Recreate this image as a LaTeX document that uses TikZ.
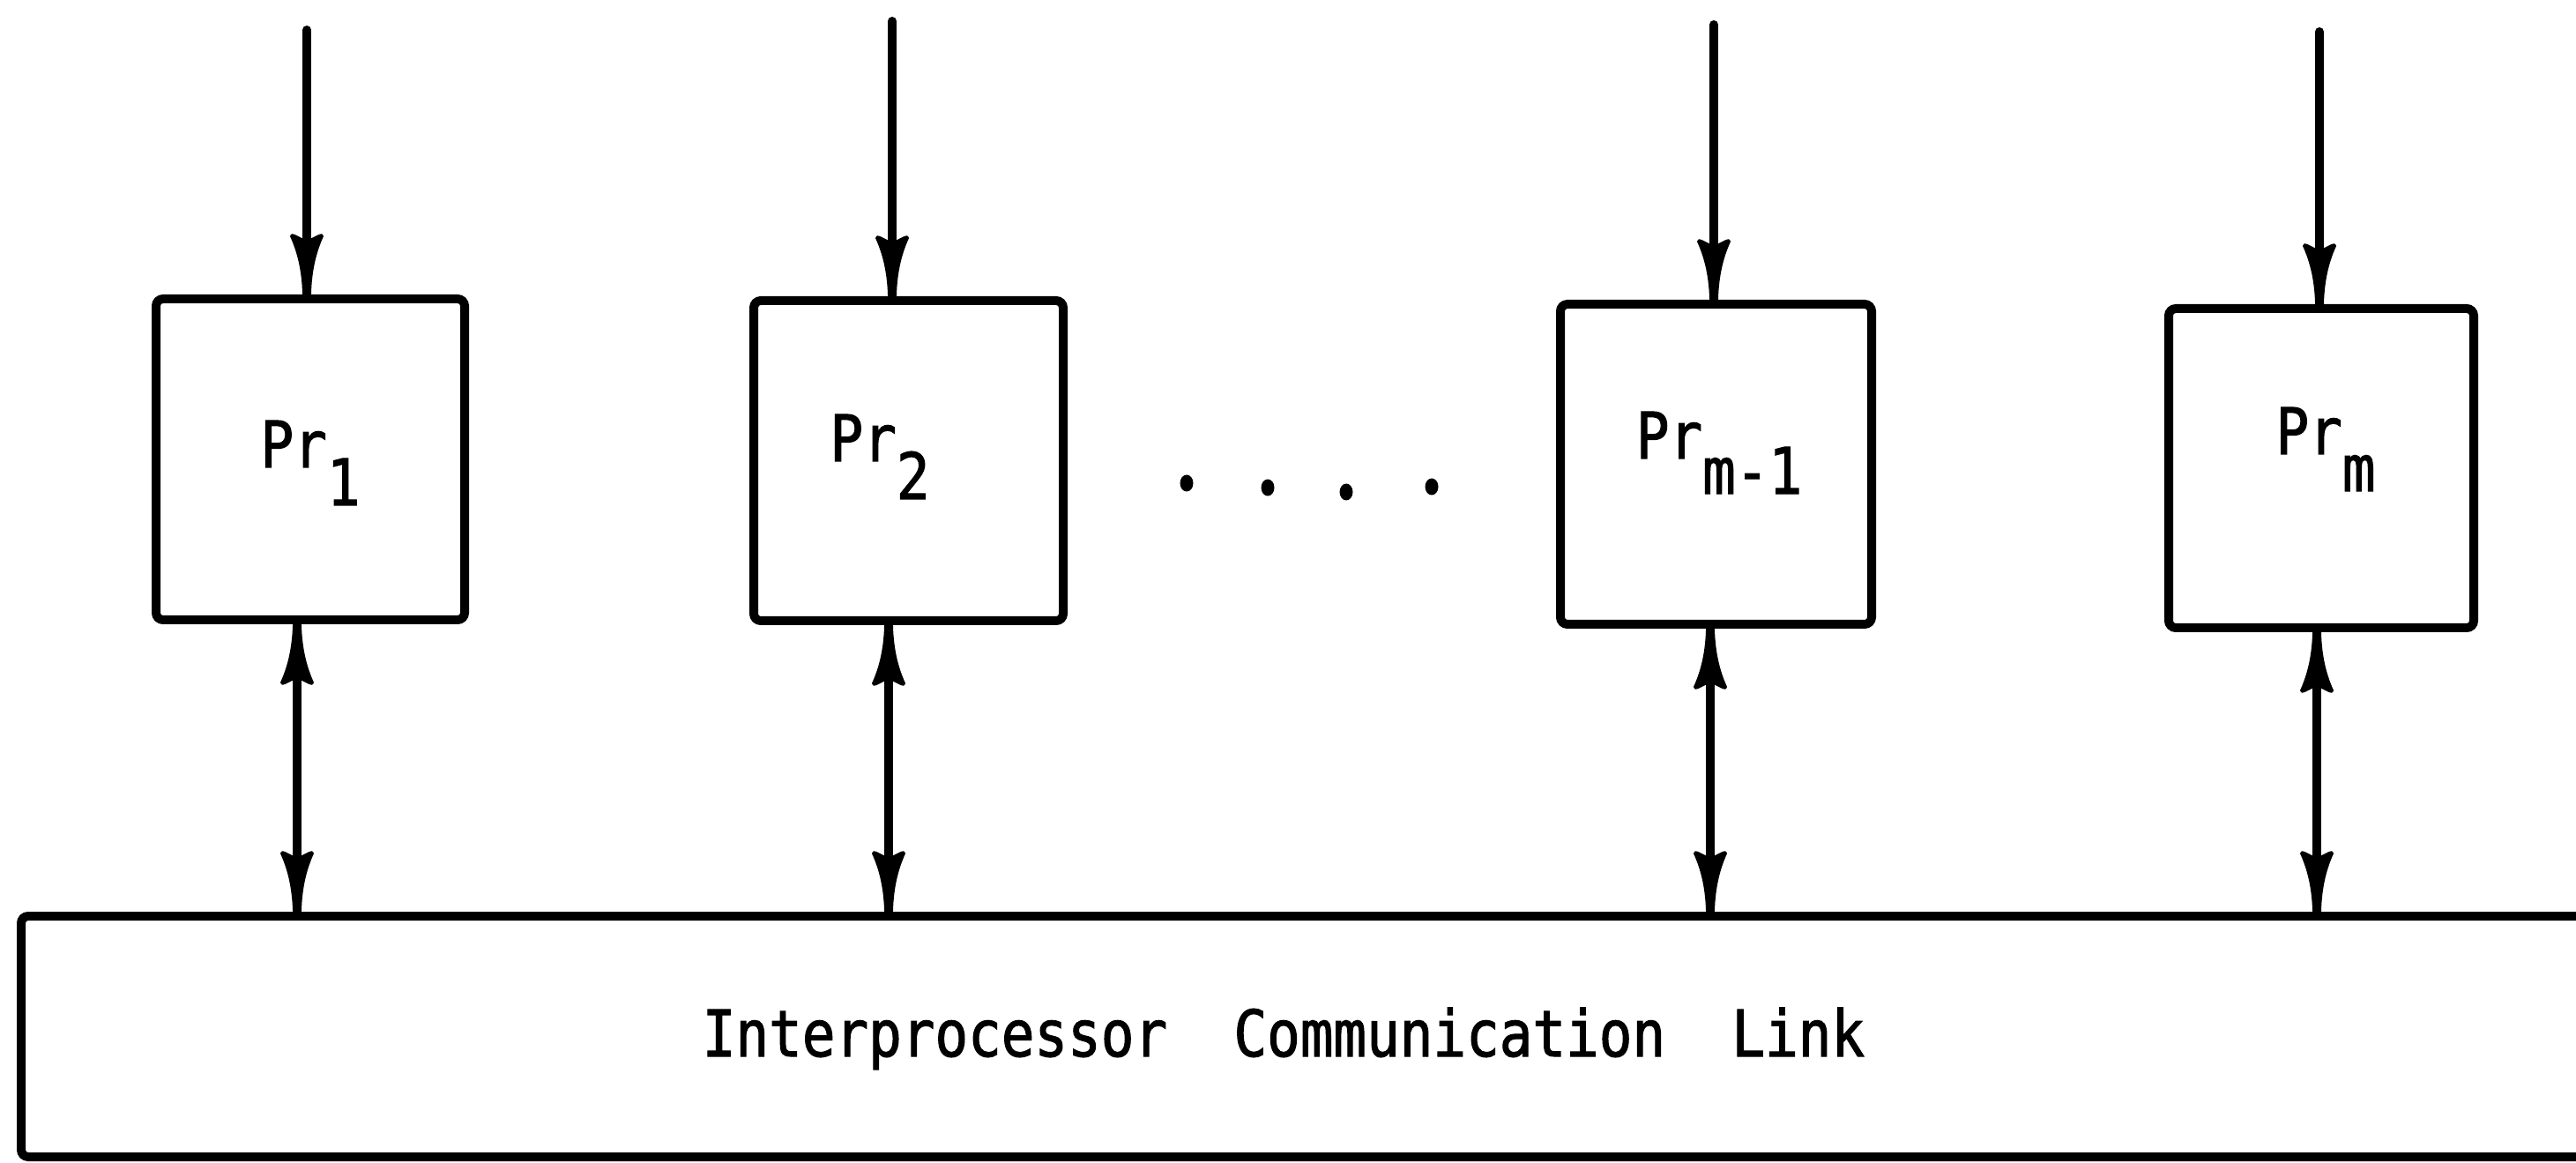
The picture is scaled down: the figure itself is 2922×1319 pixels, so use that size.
\documentclass[tikz,border=0pt]{standalone}
\usepackage{fontspec}
\newfontfamily\typefont[FakeStretch=0.86, FakeBold=1.5]{DejaVu Sans Mono}
\usetikzlibrary{arrows.meta}

\makeatletter
\pgfdeclarearrow{
  name = Barb,
  defaults = {length = 6.8mm, width = 3.8mm},
  parameters = {\the\pgfarrowlength,\the\pgfarrowwidth},
  setup code = {
    \pgfarrowssettipend{0pt}
    \pgfarrowssetbackend{-\pgfarrowlength}
    \pgfarrowssetlineend{-0.3\pgfarrowlength}
    \pgfarrowssetvisualbackend{-0.9\pgfarrowlength}
    \pgfarrowshullpoint{0pt}{0pt}
    \pgfarrowshullpoint{-\pgfarrowlength}{0.5\pgfarrowwidth}
    \pgfarrowshullpoint{-\pgfarrowlength}{-0.5\pgfarrowwidth}
    \pgfarrowssavethe\pgfarrowlength
    \pgfarrowssavethe\pgfarrowwidth
  },
  drawing code = {
    \pgfpathmoveto{\pgfqpoint{0pt}{0.13\pgfarrowwidth}}
    \pgfpathcurveto{\pgfqpoint{-0.45\pgfarrowlength}{0.15\pgfarrowwidth}}
                   {\pgfqpoint{-0.75\pgfarrowlength}{0.32\pgfarrowwidth}}
                   {\pgfqpoint{-0.97\pgfarrowlength}{0.5\pgfarrowwidth}}
    \pgfpathcurveto{\pgfqpoint{-1.02\pgfarrowlength}{0.48\pgfarrowwidth}}
                   {\pgfqpoint{-1.02\pgfarrowlength}{0.4\pgfarrowwidth}}
                   {\pgfqpoint{-\pgfarrowlength}{0.36\pgfarrowwidth}}
    \pgfpathlineto{\pgfqpoint{-0.9\pgfarrowlength}{0pt}}
    \pgfpathlineto{\pgfqpoint{-\pgfarrowlength}{-0.36\pgfarrowwidth}}
    \pgfpathcurveto{\pgfqpoint{-1.02\pgfarrowlength}{-0.4\pgfarrowwidth}}
                   {\pgfqpoint{-1.02\pgfarrowlength}{-0.48\pgfarrowwidth}}
                   {\pgfqpoint{-0.97\pgfarrowlength}{-0.5\pgfarrowwidth}}
    \pgfpathcurveto{\pgfqpoint{-0.75\pgfarrowlength}{-0.32\pgfarrowwidth}}
                   {\pgfqpoint{-0.45\pgfarrowlength}{-0.15\pgfarrowwidth}}
                   {\pgfqpoint{0pt}{-0.13\pgfarrowwidth}}
    \pgfpathclose
    \pgfusepathqfill
  }
}
\makeatother

\tikzset{
  procbox/.style={draw, line width=1mm, rounded corners=0.8mm, inner sep=0pt},
  conn/.style={line width=1mm, line cap=round, -{Barb}},
  biconn/.style={line width=1mm, {Barb}-{Barb}},
  lbl/.style={font=\typefont\fontsize{20.7}{24}\selectfont, inner sep=0pt, anchor=base},
}

\begin{document}
\begin{tikzpicture}[x=0.1mm, y=-0.1mm]
\clip (0,0) rectangle (2922,1319);
\fill[white] (0,0) rectangle (2922,1319);

% processor boxes
\node[procbox, minimum width=35mm,   minimum height=36.4mm] (p1) at (352,521) {};
\node[procbox, minimum width=35.1mm, minimum height=36.3mm] (p2) at (1030.5,522.5) {};
\node[procbox, minimum width=35.3mm, minimum height=36.3mm] (p3) at (1946.5,526.5) {};
\node[procbox, minimum width=34.6mm, minimum height=36.2mm] (p4) at (2633,531) {};

% communication link (extends beyond the right edge)
\node[procbox, minimum width=297.6mm, minimum height=27.3mm] (link) at (1512,1175.5) {};
\node[lbl] (linktext) at (1456,1198) {Interprocessor\ \ Communication\ \ Link};

% labels
\node[lbl] (l1) at (352,530)  {Pr\raisebox{-4.3mm}{1}};
\node[lbl] (l2) at (998,523)  {Pr\raisebox{-4.3mm}{2}};
\node[lbl] (l3) at (1950,520) {Pr\raisebox{-4.0mm}{m-1}};
\node[lbl] (l4) at (2638,515) {Pr\raisebox{-4.2mm}{m}};

% input arrows
\coordinate (in1) at (348,34);
\coordinate (in2) at (1012,24);
\coordinate (in3) at (1944,28);
\coordinate (in4) at (2631,36);
\draw[conn] (in1) -- (in1 |- p1.north);
\draw[conn] (in2) -- (in2 |- p2.north);
\draw[conn] (in3) -- (in3 |- p3.north);
\draw[conn] (in4) -- (in4 |- p4.north);

% bidirectional arrows to the link
\coordinate (b1) at (337,1039);
\coordinate (b2) at (1008,1039);
\coordinate (b3) at (1940,1039);
\coordinate (b4) at (2628,1039);
\draw[biconn] (b1 |- p1.south) -- (b1 |- link.north);
\draw[biconn] (b2 |- p2.south) -- (b2 |- link.north);
\draw[biconn] (b3 |- p3.south) -- (b3 |- link.north);
\draw[biconn] (b4 |- p4.south) -- (b4 |- link.north);

% ellipsis dots
\fill (1346,548) ellipse [x radius=0.75mm, y radius=0.95mm];
\fill (1438,553) ellipse [x radius=0.75mm, y radius=0.95mm];
\fill (1527,558) ellipse [x radius=0.75mm, y radius=0.95mm];
\fill (1624,552) ellipse [x radius=0.75mm, y radius=0.95mm];
\end{tikzpicture}
\end{document}
